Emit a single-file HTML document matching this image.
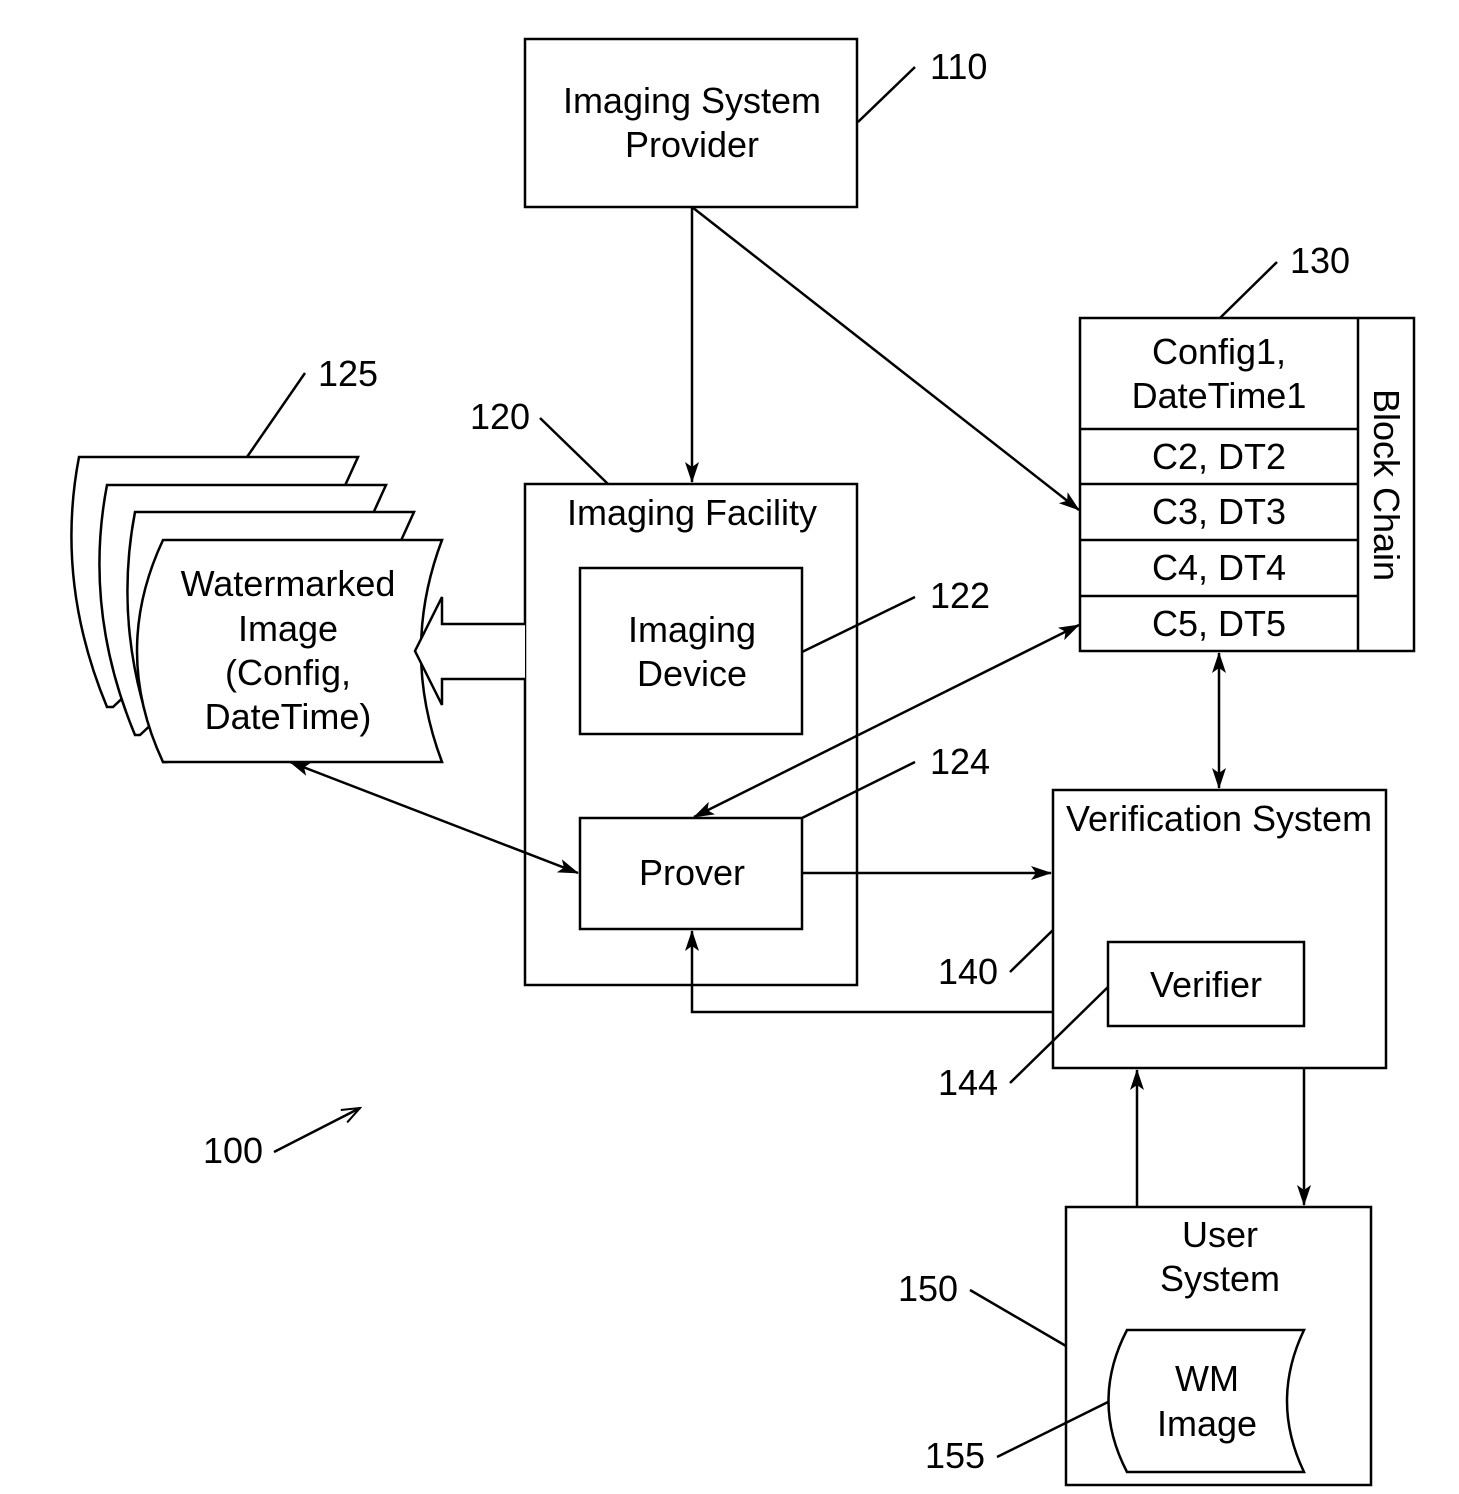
<!DOCTYPE html>
<html><head><meta charset="utf-8"><style>
html,body{margin:0;padding:0;background:#fff}
svg{display:block}
text{font-family:"Liberation Sans",Arial,sans-serif;font-size:36px;fill:#000}
</style></head><body>
<svg width="1459" height="1494" viewBox="0 0 1459 1494" xmlns="http://www.w3.org/2000/svg">
<defs>
<marker id="a" markerWidth="22" markerHeight="14" refX="20" refY="7" orient="auto-start-reverse" markerUnits="userSpaceOnUse">
<path d="M0,0 L21,7 L0,14 L5,7 Z" fill="#000"/>
</marker>
<marker id="o" markerWidth="22" markerHeight="16" refX="20" refY="8" orient="auto" markerUnits="userSpaceOnUse">
<path d="M2,1 L20,8 L2,15" fill="none" stroke="#000" stroke-width="2"/>
</marker>
</defs>
<g fill="none" stroke="#000" stroke-width="2.5">
<rect x="525" y="39" width="332" height="168" fill="#fff"/>
<line x1="858" y1="122" x2="915" y2="67"/>
<line x1="692" y1="207" x2="692" y2="482" marker-end="url(#a)"/>
<line x1="692" y1="207" x2="1079" y2="510" marker-end="url(#a)"/>
<rect x="525" y="484" width="332" height="501"/>
<rect x="580" y="568" width="222" height="166"/>
<line x1="802" y1="652" x2="915" y2="597"/>
<rect x="580" y="818" width="222" height="111"/>
<line x1="802" y1="818" x2="915" y2="762"/>
<line x1="540" y1="418" x2="608" y2="484"/>
<line x1="247" y1="457" x2="305" y2="373"/>
<path d="M79,457 L358,457 L343,490 L113,707 L107,707 Q55,582 79,457 Z" fill="#fff"/>
<path d="M107,485 L386,485 L371,518 L140,735 L135,735 Q83,610 107,485 Z" fill="#fff"/>
<path d="M135,512 L414,512 L399,545 L168,762 L163,762 Q111,637 135,512 Z" fill="#fff"/>
<path d="M163,540 L442,540 Q400,651 442,762 L163,762 Q111,651 163,540 Z" fill="#fff"/>
<path d="M525,624 L442,624 L442,597 L415,651 L442,705 L442,679 L525,679" fill="#fff"/>
<rect x="1080" y="318" width="334" height="333"/>
<line x1="1358" y1="318" x2="1358" y2="651"/>
<line x1="1080" y1="429" x2="1358" y2="429"/>
<line x1="1080" y1="484" x2="1358" y2="484"/>
<line x1="1080" y1="540" x2="1358" y2="540"/>
<line x1="1080" y1="596" x2="1358" y2="596"/>
<line x1="1220" y1="318" x2="1277" y2="262"/>
<line x1="1079" y1="625" x2="694" y2="817" marker-start="url(#a)" marker-end="url(#a)"/>
<line x1="1219" y1="653" x2="1219" y2="788" marker-start="url(#a)" marker-end="url(#a)"/>
<rect x="1053" y="790" width="333" height="278"/>
<rect x="1108" y="942" width="196" height="84"/>
<line x1="1010" y1="972" x2="1053" y2="930"/>
<line x1="1010" y1="1083" x2="1108" y2="987"/>
<line x1="802" y1="873" x2="1051" y2="873" marker-end="url(#a)"/>
<polyline points="1053,1012 692,1012 692,931" marker-end="url(#a)"/>
<line x1="290" y1="762" x2="578" y2="873" marker-start="url(#a)" marker-end="url(#a)"/>
<rect x="1066" y="1207" width="305" height="278"/>
<line x1="1137" y1="1207" x2="1137" y2="1070" marker-end="url(#a)"/>
<line x1="1304" y1="1068" x2="1304" y2="1205" marker-end="url(#a)"/>
<path d="M1127,1330 L1304,1330 Q1270,1401 1304,1472 L1127,1472 Q1090,1401 1127,1330 Z"/>
<line x1="970" y1="1290" x2="1066" y2="1346"/>
<line x1="997" y1="1457" x2="1108" y2="1402"/>
<line x1="274" y1="1152" x2="360" y2="1108" marker-end="url(#o)"/>
</g>
<g text-anchor="middle">
<text x="692" y="113">Imaging System</text>
<text x="692" y="157">Provider</text>
<text x="692" y="525">Imaging Facility</text>
<text x="692" y="642">Imaging</text>
<text x="692" y="686">Device</text>
<text x="692" y="885">Prover</text>
<text x="288" y="596">Watermarked</text>
<text x="288" y="641">Image</text>
<text x="288" y="685">(Config,</text>
<text x="288" y="729">DateTime)</text>
<text x="1219" y="364">Config1,</text>
<text x="1219" y="408">DateTime1</text>
<text x="1219" y="469">C2, DT2</text>
<text x="1219" y="524">C3, DT3</text>
<text x="1219" y="580">C4, DT4</text>
<text x="1219" y="636">C5, DT5</text>
<text transform="translate(1374,485) rotate(90)">Block Chain</text>
<text x="1219" y="831">Verification System</text>
<text x="1206" y="997">Verifier</text>
<text x="1220" y="1247">User</text>
<text x="1220" y="1291">System</text>
<text x="1207" y="1391">WM</text>
<text x="1207" y="1436">Image</text>
</g>
<text x="930" y="79">110</text>
<text x="1290" y="273">130</text>
<text x="318" y="386">125</text>
<text x="470" y="429">120</text>
<text x="930" y="608">122</text>
<text x="930" y="774">124</text>
<text x="938" y="984">140</text>
<text x="938" y="1095">144</text>
<text x="898" y="1301">150</text>
<text x="925" y="1468">155</text>
<text x="203" y="1163">100</text>
</svg>
</body></html>
